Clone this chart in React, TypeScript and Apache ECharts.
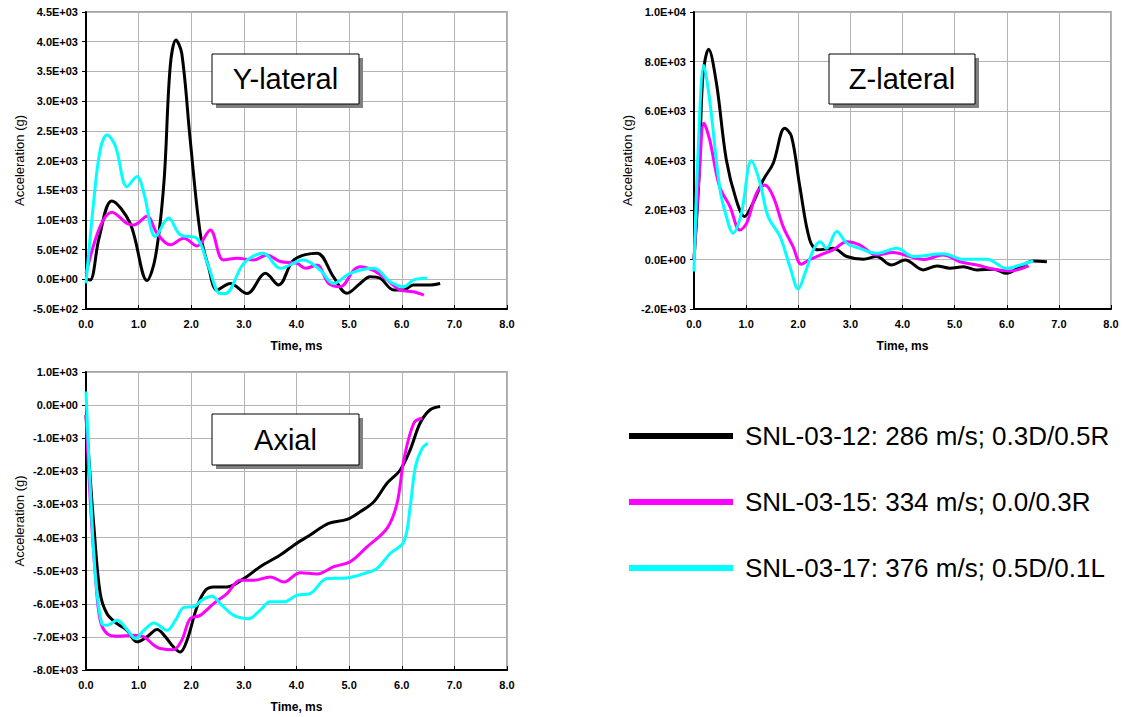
import React, { useEffect, useRef } from "react";
import * as echarts from "echarts";

const FONT = "'Liberation Sans', Arial, sans-serif";

const seriesNames = [
  "SNL-03-12: 286 m/s; 0.3D/0.5R",
  "SNL-03-15: 334 m/s; 0.0/0.3R",
  "SNL-03-17: 376 m/s; 0.5D/0.1L",
];
const seriesColors = ["#000000", "#ff00ff", "#00ffff"];
const panelTitles = ["Y-lateral", "Z-lateral", "Axial"];

// Y-lateral  [time ms, acceleration g]
const yLat12: [number, number][] = [
  [0, 0], [0.08, -10], [0.25, 700], [0.49, 1320], [0.84, 940], [1.16, -20], [1.32, 380],
  [1.48, 1620], [1.6, 3580], [1.71, 4030], [1.82, 3800], [1.98, 2350], [2.17, 780],
  [2.33, 200], [2.49, -180], [2.74, -70], [3.06, -240], [3.41, 100], [3.66, -95],
  [3.95, 326], [4.39, 440], [4.7, 45], [4.96, -235], [5.21, -70], [5.4, 45], [5.59, 17],
  [5.85, -180], [6.04, -180], [6.22, -95], [6.54, -95], [6.73, -70],
];
const yLat15: [number, number][] = [
  [0, 100], [0.27, 890], [0.49, 1130], [0.78, 940], [0.91, 915], [1.16, 1060], [1.35, 775],
  [1.6, 580], [1.86, 690], [2.11, 560], [2.36, 830], [2.61, 326], [2.87, 354], [3.19, 326],
  [3.44, 410], [3.69, 300], [4.01, 270], [4.17, 185], [4.39, 240], [4.61, -70], [4.83, -125],
  [5.09, 157], [5.21, 213], [5.47, 146], [5.72, -10], [5.97, -180], [6.22, -210], [6.42, -265],
];
const yLat17: [number, number][] = [
  [0, -70], [0.15, 1340], [0.27, 2180], [0.4, 2430], [0.56, 2240], [0.78, 1560], [0.97, 1730],
  [1.1, 1450], [1.32, 720], [1.57, 1030], [1.79, 750], [2.11, 690], [2.33, 210], [2.55, -240],
  [2.65, -240], [3.0, 270], [3.37, 440], [3.69, 185], [4.13, 326], [4.45, 157], [4.7, -70],
  [5.02, 100], [5.47, 185], [5.78, -40], [6.04, -125], [6.23, -10], [6.48, 17],
];

// Z-lateral
const zLat12: [number, number][] = [
  [0, 0], [0.1, 3500], [0.17, 7400], [0.28, 8500], [0.43, 7130], [0.62, 4030], [0.81, 2410],
  [0.97, 1740], [1.13, 2280], [1.33, 3220], [1.52, 3890], [1.74, 5300], [1.87, 4970],
  [2.03, 2950], [2.22, 790], [2.38, 390], [2.67, 450], [2.93, 120], [3.25, 10], [3.5, 120],
  [3.79, -220], [4.05, -20], [4.4, -420], [4.66, -260], [4.91, -350], [5.17, -290],
  [5.43, -420], [5.75, -390], [6.0, -560], [6.26, -290], [6.51, -60], [6.77, -90],
];
const zLat15: [number, number][] = [
  [0, 0], [0.11, 3760], [0.19, 5510], [0.3, 4840], [0.49, 2950], [0.69, 2140], [0.88, 1190],
  [1.01, 1470], [1.2, 2680], [1.36, 3010], [1.52, 2540], [1.71, 1330], [1.9, 520], [2.06, -190],
  [2.22, 0], [2.42, 180], [2.67, 390], [2.93, 720], [3.18, 590], [3.5, 180], [3.82, 280],
  [4.14, 120], [4.4, 0], [4.78, 180], [5.1, -90], [5.43, -220], [5.75, -390], [6.07, -460],
  [6.42, -260],
];
const zLat17: [number, number][] = [
  [0, -490], [0.08, 4430], [0.19, 7840], [0.3, 6450], [0.49, 2950], [0.62, 1740], [0.75, 1060],
  [0.91, 1870], [1.1, 3990], [1.26, 3150], [1.42, 1740], [1.65, 930], [1.84, -290], [2.0, -1190],
  [2.13, -550], [2.29, 390], [2.42, 720], [2.54, 450], [2.74, 1130], [2.93, 660], [3.18, 450],
  [3.5, 250], [3.89, 450], [4.21, 120], [4.78, 230], [5.17, 10], [5.62, 10], [6.0, -360],
  [6.26, -220], [6.51, -60],
];

// Axial
const axial12: [number, number][] = [
  [0, -300], [0.07, -1960], [0.15, -3670], [0.27, -5690], [0.4, -6300], [0.59, -6600],
  [0.78, -6800], [0.97, -7150], [1.16, -7000], [1.35, -6780], [1.51, -7000], [1.66, -7300],
  [1.79, -7460], [1.92, -7100], [2.11, -6090], [2.27, -5590], [2.43, -5490], [2.68, -5490],
  [3.0, -5240], [3.31, -4880], [3.69, -4530], [3.95, -4230], [4.26, -3920], [4.61, -3570],
  [4.96, -3450], [5.21, -3220], [5.47, -2920], [5.72, -2360], [5.97, -1960], [6.16, -1350],
  [6.35, -540], [6.54, -140], [6.73, -40],
];
const axial15: [number, number][] = [
  [0, -300], [0.08, -2860], [0.18, -5190], [0.27, -6500], [0.4, -6900], [0.59, -6980],
  [0.91, -6950], [1.1, -7000], [1.29, -7250], [1.41, -7350], [1.66, -7390], [1.82, -7100],
  [1.98, -6450], [2.17, -6350], [2.43, -5990], [2.68, -5690], [2.93, -5290], [3.19, -5290],
  [3.5, -5190], [3.76, -5340], [4.07, -5060], [4.39, -5100], [4.71, -4880], [5.02, -4730],
  [5.34, -4280], [5.72, -3720], [5.91, -2970], [6.04, -1650], [6.23, -540], [6.39, -390],
];
const axial17: [number, number][] = [
  [0, 410], [0.08, -2460], [0.18, -5190], [0.3, -6600], [0.4, -6650], [0.59, -6500],
  [0.78, -6780], [0.94, -7050], [1.1, -6800], [1.29, -6580], [1.54, -6800], [1.7, -6500],
  [1.86, -6110], [2.05, -6090], [2.2, -5890], [2.39, -5770], [2.58, -6040], [2.81, -6350],
  [3.09, -6450], [3.31, -6190], [3.5, -5940], [3.76, -5940], [4.01, -5740], [4.26, -5690],
  [4.58, -5240], [4.96, -5220], [5.28, -5090], [5.53, -4930], [5.78, -4480], [6.04, -4130],
  [6.16, -3070], [6.26, -1860], [6.39, -1300], [6.49, -1150],
];

const panelData = [
  [yLat12, yLat15, yLat17],
  [zLat12, zLat15, zLat17],
  [axial12, axial15, axial17],
];
const yRanges = [
  { min: -500, max: 4500, interval: 500 },
  { min: -2000, max: 10000, interval: 2000 },
  { min: -8000, max: 1000, interval: 1000 },
];

function sci(v: number): string {
  const s = v.toExponential(1);
  const [m, e] = s.split("e");
  const sign = e[0] === "-" ? "-" : "+";
  const digits = e.replace(/[+-]/, "").padStart(2, "0");
  return `${m}E${sign}${digits}`;
}

const grids = [
  { left: 86, top: 12, width: 421, height: 297 },
  { left: 694, top: 12, width: 417, height: 297 },
  { left: 86, top: 372, width: 421, height: 298 },
];
const boxes = [
  { x: 212, y: 54, w: 147, h: 50 },
  { x: 829, y: 54, w: 146, h: 50 },
  { x: 212, y: 414, w: 147, h: 51 },
];

export default function App() {
  const ref = useRef<HTMLDivElement>(null);
  useEffect(() => {
    if (!ref.current) return;
    const chart = echarts.init(ref.current, undefined, { renderer: "svg" });
    const option: any = {
      animation: false,
      backgroundColor: "#ffffff",
      textStyle: { fontFamily: FONT },
      grid: grids.map((g) => ({
        ...g,
        show: true,
        borderColor: "#a8a8a8",
        borderWidth: 2,
        backgroundColor: "transparent",
      })),
      xAxis: grids.map((_, i) => ({
        type: "value",
        gridIndex: i,
        min: 0,
        max: 8,
        interval: 1,
        name: "Time, ms",
        nameLocation: "middle",
        nameGap: 31,
        nameTextStyle: { fontSize: 12, fontWeight: "bold", color: "#000", fontFamily: FONT },
        axisLine: { show: true, onZero: false, lineStyle: { color: "#000", width: 2 } },
        axisTick: { show: true, inside: true, length: 4, lineStyle: { color: "#000" } },
        axisLabel: {
          fontSize: 11,
          fontWeight: "bold",
          color: "#000",
          fontFamily: FONT,
          margin: 9,
          formatter: (v: number) => v.toFixed(1),
        },
        splitLine: { show: true, lineStyle: { color: "#b4b4b4", width: 1 } },
      })),
      yAxis: grids.map((_, i) => ({
        type: "value",
        gridIndex: i,
        ...yRanges[i],
        name: "Acceleration (g)",
        nameLocation: "middle",
        nameRotate: 90,
        nameGap: 60,
        nameTextStyle: { fontSize: 13, color: "#000", fontFamily: FONT },
        axisLine: { show: true, onZero: false, lineStyle: { color: "#000", width: 2 } },
        axisTick: { show: true, inside: false, length: 4, lineStyle: { color: "#000" } },
        axisLabel: {
          fontSize: 11,
          fontWeight: "bold",
          color: "#000",
          fontFamily: FONT,
          margin: 8,
          formatter: (v: number) => sci(v),
        },
        splitLine: { show: true, lineStyle: { color: "#b4b4b4", width: 1 } },
      })),
      legend: {
        data: seriesNames,
        orient: "vertical",
        left: 624,
        top: 418,
        icon: "rect",
        itemWidth: 104,
        itemHeight: 6,
        itemGap: 40,
        selectedMode: false,
        textStyle: {
          fontSize: 26,
          lineHeight: 26,
          color: "#000",
          fontFamily: FONT,
          padding: [0, 0, 0, 7],
        },
      },
      series: panelData.flatMap((panel, pi) =>
        panel.map((data, si) => ({
          type: "line",
          name: seriesNames[si],
          xAxisIndex: pi,
          yAxisIndex: pi,
          data,
          smooth: 0.35,
          symbol: "none",
          showSymbol: false,
          color: seriesColors[si],
          itemStyle: { color: seriesColors[si] },
          lineStyle: { color: seriesColors[si], width: 3 },
          z: 2 + si,
        }))
      ),
      graphic: boxes.flatMap((b, i) => [
        {
          type: "rect",
          z: 100,
          shape: { x: b.x + 4, y: b.y + 4, width: b.w, height: b.h },
          style: { fill: "#808080" },
        },
        {
          type: "rect",
          z: 101,
          shape: { x: b.x, y: b.y, width: b.w, height: b.h },
          style: { fill: "#ffffff", stroke: "#000", lineWidth: 1 },
        },
        {
          type: "text",
          z: 102,
          x: b.x + b.w / 2,
          y: b.y + b.h / 2,
          style: {
            text: panelTitles[i],
            fontSize: 29,
            fontFamily: FONT,
            fill: "#000",
            align: "center",
            verticalAlign: "middle",
          },
        },
      ]),
    };
    chart.setOption(option);
    return () => chart.dispose();
  }, []);
  return (
    <div
      ref={ref}
      style={{ position: "fixed", left: 0, top: 0, width: 1127, height: 717, background: "#fff" }}
    />
  );
}
